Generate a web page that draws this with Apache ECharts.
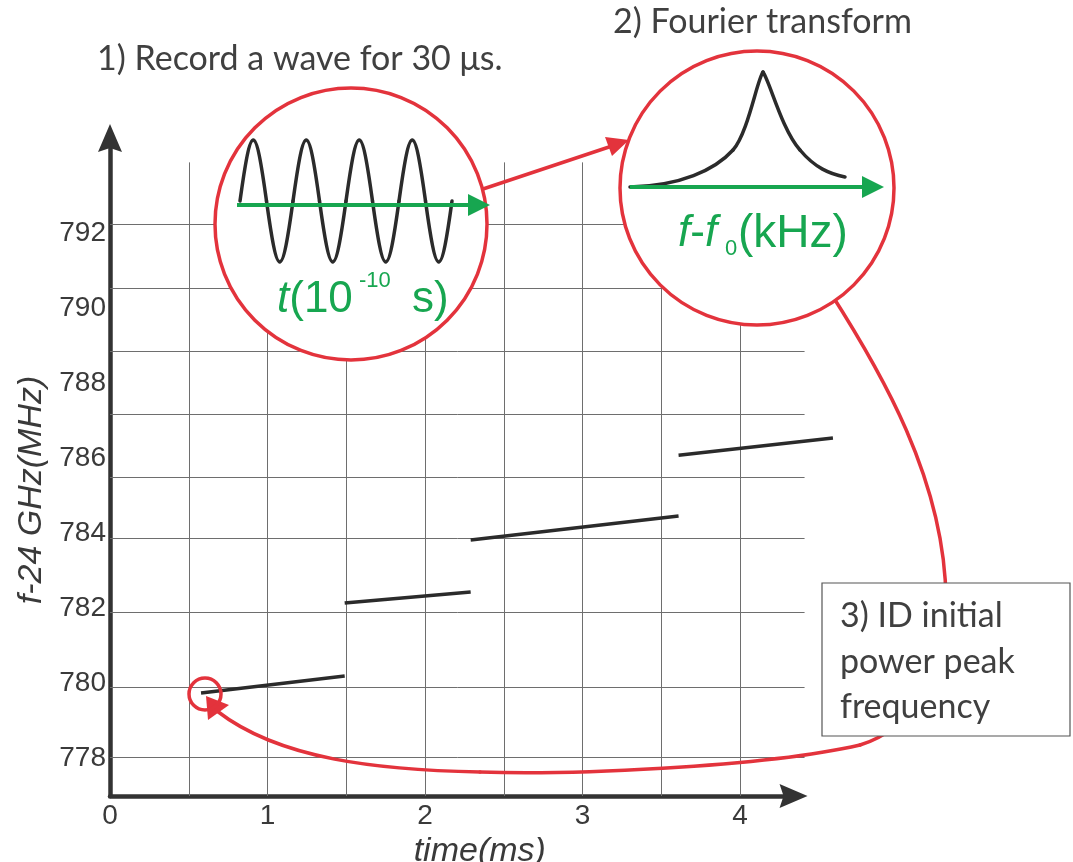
<!DOCTYPE html>
<html>
<head>
<meta charset="utf-8">
<script src="https://cdn.jsdelivr.net/npm/echarts@6/dist/echarts.min.js"></script>
<style>
html,body{margin:0;padding:0;background:#fff;}
#chart{width:1073px;height:862px;}
</style>
</head>
<body>
<div id="chart"></div>
<script>
// ---- data ----
const xTickLabels = [0, 1, 2, 3, 4];
const yTickLabels = [778, 780, 782, 784, 786, 788, 790, 792];
const xAxisTitle = 'time(ms)';
const yAxisTitle = 'f-24 GHz(MHz)';
// frequency segments: [time ms, f-24GHz MHz]
const segment1 = [[0.578, 779.75], [1.49, 780.20]];
const segment2 = [[1.49, 782.15], [2.29, 782.44]];
const segment3 = [[2.29, 783.83], [3.61, 784.47]];
const segment4 = [[3.61, 786.09], [4.59, 786.55]];
// hand-drawn grid positions (data units)
const vGridTimes = [0.5, 1, 1.5, 2, 2.5, 3, 3.5, 4];
const hGridFreqs = [778.04, 779.91, 781.91, 783.88, 785.51, 787.19, 788.87, 790.55, 792.25];
// annotation texts
const step1Text = '1) Record a wave for 30 \u03bcs.';
const step2Text = '2) Fourier transform';
const step3Lines = ['3) ID initial', 'power peak', 'frequency'];

const RED = '#e3333c';
const GREEN = '#17a650';
const INK = '#2b2b2b';
const TXT = '#404040';
const LABEL = '#3a3a3a';

const X_MIN = 0, X_AXIS_MAX = 4.34, X_DATA_MAX = 4.6, Y_MIN = 777, Y_MAX = 794.55;
const GRID_X_END = 4.41, GRID_Y_TOP = 793.9;
const PX_PER_MS = 157.5;

const chart = echarts.init(document.getElementById('chart'), null, {renderer: 'canvas'});

const gridLines = [];
vGridTimes.forEach(t => gridLines.push([{coord: [t, Y_MIN]}, {coord: [t, GRID_Y_TOP]}]));
hGridFreqs.forEach(f => gridLines.push([{coord: [X_MIN, f]}, {coord: [GRID_X_END, f]}]));

function segSeries(name, data) {
  return {
    name: name, type: 'line', data: data, symbol: 'none', z: 5, xAxisIndex: 0, yAxisIndex: 0,
    lineStyle: {color: INK, width: 3.5}, silent: true
  };
}

// illustration geometry (pixels)
function bez(p0, c1, c2, p1, stroke, w, z) {
  return {type: 'bezierCurve', z: z, silent: true,
    shape: {x1: p0[0], y1: p0[1], cpx1: c1[0], cpy1: c1[1], cpx2: c2[0], cpy2: c2[1], x2: p1[0], y2: p1[1]},
    style: {fill: null, stroke: stroke, lineWidth: w, lineCap: 'round'}};
}
function sineCurves(x0, c, half, amp, n) {
  const out = [];
  const a = 0.4244 * half, k = amp * 4 / 3;
  for (let i = 0; i < n; i++) {
    const s = i % 2 === 0 ? -1 : 1;
    const xs = x0 + i * half;
    out.push(bez([xs, c], [xs + a, c + s * k], [xs + half - a, c + s * k], [xs + half, c], INK, 3.5, 111));
  }
  return out;
}
function gText(x, y, text, font, size, color, italic, z) {
  return {type: 'text', z: z || 112, silent: true, x: x, y: y,
    style: {text: text, fontFamily: font, fontSize: size, fontStyle: italic ? 'italic' : 'normal',
      fill: color, align: 'left', verticalAlign: 'middle'}};
}
const SANS = 'Liberation Sans';

const elements = [
  // red curve from circle 2 to initial point
  bez([830,292], [880,370], [945,480], [946,600], RED, 3.5, 100),
  bez([946,600], [942,680], [910,730], [860,745], RED, 3.5, 100),
  bez([860,745], [760,768], [560,775], [480,772], RED, 3.5, 100),
  bez([480,772], [380,770], [280,760], [217,711], RED, 3.5, 100),
  {type: 'polygon', z: 101, silent: true, shape: {points: [[206,696],[208,720],[229,705]]}, style: {fill: RED}},
  {type: 'circle', z: 101, silent: true, shape: {cx: 205, cy: 694, r: 16}, style: {fill: null, stroke: RED, lineWidth: 3.5}},
  // red arrow circle1 -> circle2
  {type: 'line', z: 100, silent: true, shape: {x1: 480, y1: 190, x2: 612, y2: 146}, style: {stroke: RED, lineWidth: 3.5}},
  {type: 'polygon', z: 101, silent: true, shape: {points: [[629,140],[612,156],[605,137]]}, style: {fill: RED}},
  // circle 1: recorded wave
  {type: 'circle', z: 110, silent: true, shape: {cx: 351, cy: 224, r: 136}, style: {fill: '#fff', stroke: RED, lineWidth: 3.5}}
].concat(sineCurves(240, 201, 26.5, 61, 8)).concat([
  {type: 'line', z: 112, silent: true, shape: {x1: 237, y1: 205, x2: 472, y2: 205}, style: {stroke: GREEN, lineWidth: 4}},
  {type: 'polygon', z: 112, silent: true, shape: {points: [[468,194],[490,205],[468,216]]}, style: {fill: GREEN}},
  {type: 'text', z: 112, silent: true, x: 277, y: 300,
    style: {text: '{i|t}{n|(10}', verticalAlign: 'middle', align: 'left',
      rich: {
        i: {fontFamily: SANS, fontStyle: 'italic', fontSize: 44, fill: GREEN},
        n: {fontFamily: SANS, fontSize: 44, fill: GREEN}
      }}},
  gText(359, 281, '-10', SANS, 22, GREEN, false),
  gText(412, 300, 's)', SANS, 44, GREEN, false),
  // circle 2: Fourier transform
  {type: 'circle', z: 110, silent: true, shape: {cx: 757, cy: 188, r: 137}, style: {fill: '#fff', stroke: RED, lineWidth: 3.5}},
  bez([630,187], [680,186], [715,170], [733,150], INK, 3.5, 111),
  bez([733,150], [748,133], [757,80], [763,72], INK, 3.5, 111),
  bez([763,72], [770,82], [782,130], [800,150], INK, 3.5, 111),
  bez([800,150], [815,168], [830,174], [845,177], INK, 3.5, 111),
  {type: 'line', z: 112, silent: true, shape: {x1: 630, y1: 187, x2: 866, y2: 187}, style: {stroke: GREEN, lineWidth: 4}},
  {type: 'polygon', z: 112, silent: true, shape: {points: [[862,176],[884,187],[862,198]]}, style: {fill: GREEN}},
  {type: 'text', z: 112, silent: true, x: 678, y: 234,
    style: {text: '{i|f}{n|-}{i|f}', verticalAlign: 'middle', align: 'left',
      rich: {
        i: {fontFamily: SANS, fontStyle: 'italic', fontSize: 44, fill: GREEN},
        n: {fontFamily: SANS, fontSize: 44, fill: GREEN}
      }}},
  gText(725, 249, '0', SANS, 22, GREEN, false),
  gText(738, 234, '(kHz)', SANS, 46, GREEN, false),
  // step texts
  gText(97, 59, step1Text, 'Lato', 34, TXT, false, 120),
  gText(613, 22, step2Text, 'Lato', 34, TXT, false, 120),
  {type: 'rect', z: 120, silent: true, shape: {x: 822, y: 583, width: 248, height: 153},
    style: {fill: '#fff', stroke: '#555', lineWidth: 1.2}},
  gText(840, 616, step3Lines[0], 'Lato', 34, TXT, false, 121),
  gText(840, 662, step3Lines[1], 'Lato', 34, TXT, false, 121),
  gText(840, 707, step3Lines[2], 'Lato', 34, TXT, false, 121)
]);

const arrowPath = 'path://M12,0 L24,28 L12,24 L0,28 Z';
const option = {
  backgroundColor: '#fff',
  animation: false,
  grid: [
    {left: 110, top: 138, width: X_DATA_MAX * PX_PER_MS, height: 658, containLabel: false, outerBoundsMode: 'none'},
    {left: 110, top: 138, width: X_AXIS_MAX * PX_PER_MS, height: 658, containLabel: false, outerBoundsMode: 'none'}
  ],
  xAxis: [
    {type: 'value', gridIndex: 0, min: X_MIN, max: X_DATA_MAX, show: false},
    {
      type: 'value', gridIndex: 1, min: X_MIN, max: X_AXIS_MAX, interval: 1,
      name: xAxisTitle, nameLocation: 'middle', nameGap: 25,
      nameTextStyle: {fontFamily: SANS, fontStyle: 'italic', fontSize: 34, color: LABEL, padding: [0, 0, 0, 56]},
      axisLine: {show: true, symbol: ['none', arrowPath], symbolSize: [25, 28],
        lineStyle: {color: '#333', width: 4.5}},
      axisTick: {show: false},
      splitLine: {show: false},
      axisLabel: {fontFamily: SANS, fontSize: 28, color: LABEL, margin: 6,
        formatter: v => xTickLabels.indexOf(Math.round(v * 1000) / 1000) >= 0 ? String(v) : ''}
    }
  ],
  yAxis: [
    {type: 'value', gridIndex: 0, min: Y_MIN, max: Y_MAX, show: false},
    {
      type: 'value', gridIndex: 1, min: Y_MIN, max: Y_MAX, interval: 1,
      name: yAxisTitle, nameLocation: 'middle', nameGap: 56, nameRotate: 90,
      nameTextStyle: {fontFamily: SANS, fontStyle: 'italic', fontSize: 34, color: LABEL, padding: [0, 46, 0, 0]},
      axisLine: {show: true, symbol: ['none', arrowPath], symbolSize: [25, 28],
        lineStyle: {color: '#333', width: 4.5}},
      axisTick: {show: false},
      splitLine: {show: false},
      axisLabel: {fontFamily: SANS, fontSize: 28, color: LABEL, margin: 4, padding: [5, 0, 0, 0],
        formatter: v => yTickLabels.indexOf(Math.round(v)) >= 0 && Math.abs(v - Math.round(v)) < 1e-6 ? String(v) : ''}
    }
  ],
  series: [
    {
      name: 'grid', type: 'line', data: [], z: 1, silent: true, xAxisIndex: 0, yAxisIndex: 0,
      markLine: {silent: true, symbol: ['none', 'none'], animation: false, label: {show: false},
        lineStyle: {color: '#6e6e6e', width: 1, type: 'solid'}, emphasis: {disabled: true}, data: gridLines}
    },
    segSeries('seg1', segment1),
    segSeries('seg2', segment2),
    segSeries('seg3', segment3),
    segSeries('seg4', segment4)
  ],
  graphic: {elements: elements}
};
chart.setOption(option);
</script>
</body>
</html>
